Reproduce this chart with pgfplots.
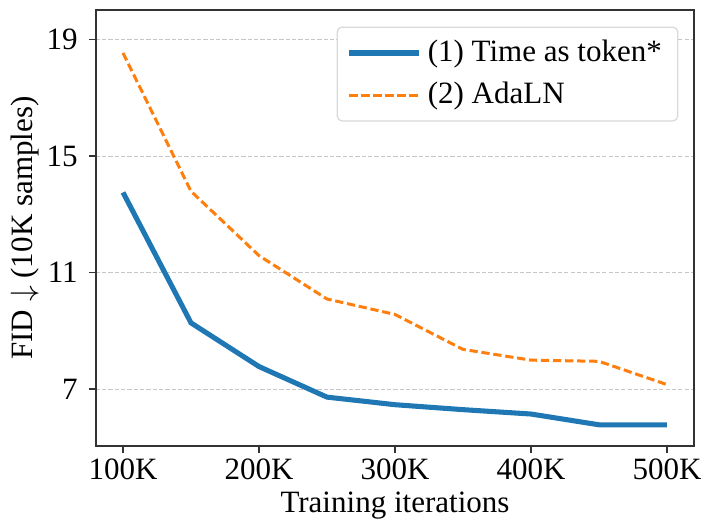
\documentclass[border=0pt]{standalone}
\usepackage{pgfplots}
\pgfplotsset{compat=1.18}
\usepackage{fontspec}
\setmainfont{Liberation Serif}
\definecolor{mblue}{HTML}{1F77B4}
\definecolor{morange}{HTML}{FF7F0E}
\begin{document}
\begin{tikzpicture}
\begin{axis}[
  width=189pt, height=137.5pt, scale only axis,
  xmin=80, xmax=520, ymin=5.05, ymax=20,
  xtick={100,200,300,400,500},
  xticklabels={100K,200K,300K,400K,500K},
  ytick={7,11,15,19},
  xtick pos=left, ytick pos=left,
  tick align=outside,
  major tick length=2.2pt,
  tick style={black!80, line width=0.5pt},
  axis line style={black!80, line width=0.6pt},
  ymajorgrids,
  grid style={gray!45, dash pattern=on 1.3pt off 0.7pt, line width=0.3pt},
  /pgf/number format/assume math mode=true,
  tick label style={font=\fontsize{9.8}{11}\selectfont},
  xticklabel style={yshift=1.6pt},
  label style={font=\fontsize{9.8}{11}\selectfont},
  xlabel={Training iterations},
  ylabel={FID $\downarrow$ (10K samples)},
  xlabel style={yshift=3pt},
  ylabel style={yshift=-4.5pt},
  legend style={at={(0.9736,0.963)}, anchor=north east,
    draw=gray!30, rounded corners=1.5pt, line width=0.4pt,
    font=\fontsize{9.8}{11}\selectfont, row sep=1pt,
    inner xsep=3pt, inner ysep=2pt},
  legend cell align=left,
  legend image code/.code={\draw[#1] (0pt,0pt) -- (22pt,0pt);},
]
\addplot[mblue, line width=1.6pt] coordinates {
(100,13.75) (150,9.27) (200,7.77) (250,6.72) (300,6.46) (350,6.29) (400,6.14) (450,5.77) (500,5.77)};
\addlegendentry{(1) Time as token*}
\addplot[morange, line width=0.95pt, dash pattern=on 2.6pt off 1.2pt] coordinates {
(100,18.54) (150,13.79) (200,11.58) (250,10.09) (300,9.56) (350,8.36) (400,7.99) (450,7.95) (500,7.15)};
\addlegendentry{(2) AdaLN}
\end{axis}
\path (current axis.north east) ++(3.8pt,3.3pt);
\path (current axis.west) ++(-30pt,0pt);
\end{tikzpicture}
\end{document}
